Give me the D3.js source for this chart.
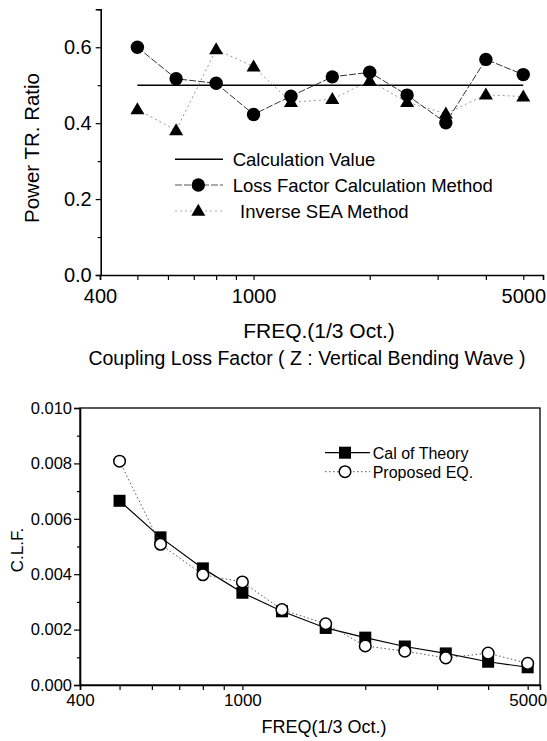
<!DOCTYPE html>
<html>
<head>
<meta charset="utf-8">
<script src="https://cdn.jsdelivr.net/npm/d3@7"></script>
<style>
  body { margin: 0; background: #fff; }
  svg { display: block; font-family: "Liberation Sans", Arial, sans-serif; }
</style>
</head>
<body>
<svg id="main" width="547" height="741"></svg>
<script>
// 1/3 octave centre frequencies
const freqs = [500, 630, 800, 1000, 1250, 1600, 2000, 2500, 3150, 4000, 5000];

// top chart : power transmission ratio
const calcValue  = [0.5, 0.5, 0.5, 0.5, 0.5, 0.5, 0.5, 0.5, 0.5, 0.5, 0.5];
const lossFactor = [0.600, 0.517, 0.505, 0.423, 0.471, 0.522, 0.534, 0.474, 0.401, 0.568, 0.528];
const inverseSEA = [0.436, 0.381, 0.594, 0.549, 0.455, 0.463, 0.512, 0.455, 0.425, 0.475, 0.470];

// bottom chart : coupling loss factor
const calTheory  = [0.00665, 0.00533, 0.00421, 0.00333, 0.00266, 0.00206, 0.00171, 0.00139, 0.00114, 0.00084, 0.00064];
const proposedEQ = [0.00808, 0.00508, 0.00398, 0.00372, 0.00272, 0.00221, 0.00141, 0.00122, 0.00098, 0.00115, 0.00078];

// axis ticks
const xTicks = [400, 500, 600, 700, 800, 900, 1000, 2000, 3000, 4000, 5000];
const xLabels = [400, 1000, 5000];
const topYTicks = [0, 0.1, 0.2, 0.3, 0.4, 0.5, 0.6, 0.7];
const topYLabels = [0, 0.2, 0.4, 0.6];
const botYTicks = [0, 0.001, 0.002, 0.003, 0.004, 0.005, 0.006, 0.007, 0.008, 0.009, 0.010];
const botYLabels = [0, 0.002, 0.004, 0.006, 0.008, 0.010];

const svg = d3.select('#main');

// small helper: triangle path centred on 0,0
function tri(w, h) {
  return `M0,${-h*0.6}L${w/2},${h*0.4}L${-w/2},${h*0.4}Z`;
}

function pairs(ys) { return freqs.map((f, i) => [f, ys[i]]); }

function hasVal(list, v) { return list.some(l => Math.abs(l - v) < 1e-9); }

// ---------------- top chart ----------------
let x1 = d3.scaleLog().domain([400, 5625]).range([100, 543]);
let y1 = d3.scaleLinear().domain([0, 0.7]).range([275, 9.3]);

let topG = svg.append('g').attr('class', 'topchart');

let xAx1 = topG.append('g')
  .attr('transform', 'translate(0,275)')
  .call(d3.axisBottom(x1).tickValues(xTicks).tickSizeOuter(0).tickSize(5).tickPadding(9)
    .tickFormat(d => hasVal(xLabels, d) ? d : ''));
xAx1.selectAll('text').style('font-size', '20px').attr('fill', '#000');

let yAx1 = topG.append('g')
  .attr('transform', 'translate(100.7,0)')
  .call(d3.axisLeft(y1).tickValues(topYTicks).tickSizeOuter(0).tickSize(5).tickPadding(4)
    .tickFormat(d => hasVal(topYLabels, d) ? d3.format('.1f')(d) : ''));
yAx1.selectAll('text').style('font-size', '20px').attr('fill', '#000');
yAx1.selectAll('.tick line').filter(d => !hasVal(topYLabels, d)).attr('x2', -3);

topG.selectAll('.domain').attr('stroke-width', 1.6).attr('stroke', '#000');
topG.selectAll('.tick line').attr('stroke-width', 1.2).attr('stroke', '#000');

let line1 = d3.line().x(d => x1(d[0])).y(d => y1(d[1]));

// calculation value
topG.append('path').datum(pairs(calcValue))
  .attr('d', line1).attr('fill', 'none').attr('stroke', '#000').attr('stroke-width', 1.4);

// inverse SEA method
topG.append('path').datum(pairs(inverseSEA))
  .attr('d', line1).attr('fill', 'none').attr('stroke', '#999').attr('stroke-width', 1)
  .attr('stroke-dasharray', '2,3');
topG.selectAll('.triA').data(pairs(inverseSEA)).join('path')
  .attr('class', 'triA')
  .attr('d', tri(14, 12))
  .attr('transform', d => `translate(${x1(d[0])},${y1(d[1])})`)
  .attr('fill', '#000');

// loss factor calculation method
topG.append('path').datum(pairs(lossFactor))
  .attr('d', line1).attr('fill', 'none').attr('stroke', '#333').attr('stroke-width', 1)
  .attr('stroke-dasharray', '7,2');
topG.selectAll('.dotL').data(pairs(lossFactor)).join('circle')
  .attr('class', 'dotL')
  .attr('cx', d => x1(d[0])).attr('cy', d => y1(d[1])).attr('r', 6.7)
  .attr('fill', '#000');

// legend
let lg1 = topG.append('g').style('font-size', '18.5px');
lg1.append('line').attr('x1', 175).attr('x2', 223).attr('y1', 159.3).attr('y2', 159.3)
  .attr('stroke', '#000').attr('stroke-width', 1.4);
lg1.append('text').attr('x', 232.7).attr('y', 166).text('Calculation Value');

lg1.append('line').attr('x1', 175).attr('x2', 223).attr('y1', 185).attr('y2', 185)
  .attr('stroke', '#555').attr('stroke-width', 1).attr('stroke-dasharray', '7,2');
lg1.append('circle').attr('cx', 198.3).attr('cy', 185).attr('r', 6.7).attr('fill', '#000');
lg1.append('text').attr('x', 232.7).attr('y', 192).text('Loss Factor Calculation Method');

lg1.append('line').attr('x1', 175).attr('x2', 223).attr('y1', 211).attr('y2', 211)
  .attr('stroke', '#aaa').attr('stroke-width', 1).attr('stroke-dasharray', '2,3');
lg1.append('path').attr('d', tri(14, 12)).attr('transform', 'translate(198.3,211)').attr('fill', '#000');
lg1.append('text').attr('x', 240).attr('y', 217.5).text('Inverse SEA Method');

// titles
topG.append('text')
  .attr('transform', 'translate(38.5,148) rotate(-90)')
  .attr('text-anchor', 'middle').style('font-size', '20.5px')
  .text('Power TR. Ratio');
topG.append('text').attr('x', 319).attr('y', 338).attr('text-anchor', 'middle')
  .style('font-size', '21px').text('FREQ.(1/3 Oct.)');
topG.append('text').attr('x', 307).attr('y', 365).attr('text-anchor', 'middle')
  .style('font-size', '19.5px').text('Coupling Loss Factor ( Z : Vertical Bending Wave )');

// ---------------- bottom chart ----------------
let x2 = d3.scaleLog().domain([400, 5360]).range([80, 540]);
let y2 = d3.scaleLinear().domain([0, 0.010]).range([685, 408]);

let botG = svg.append('g').attr('class', 'botchart');

botG.append('rect').attr('x', 80).attr('y', 408).attr('width', 460).attr('height', 277)
  .attr('fill', 'none').attr('stroke', '#000').attr('stroke-width', 1.3);

let xAx2 = botG.append('g')
  .attr('transform', 'translate(0,685)')
  .call(d3.axisBottom(x2).tickValues(xTicks).tickSizeOuter(0).tickSize(5).tickPadding(4)
    .tickFormat(d => hasVal(xLabels, d) ? d : ''));
xAx2.selectAll('text').style('font-size', '17px').attr('fill', '#000');

let yAx2 = botG.append('g')
  .attr('transform', 'translate(80,0)')
  .call(d3.axisLeft(y2).tickValues(botYTicks).tickSizeOuter(0).tickSize(6).tickPadding(2)
    .tickFormat(d => hasVal(botYLabels, d) ? d3.format('.3f')(d) : ''));
yAx2.selectAll('text').style('font-size', '16.5px').attr('fill', '#000');
yAx2.selectAll('.tick line').filter(d => !hasVal(botYLabels, d)).attr('x2', -3);

botG.selectAll('.domain').attr('stroke-width', 1.6).attr('stroke', '#000');
botG.selectAll('.tick line').attr('stroke-width', 1.2).attr('stroke', '#000');

let line2 = d3.line().x(d => x2(d[0])).y(d => y2(d[1]));

// cal of theory
botG.append('path').datum(pairs(calTheory))
  .attr('d', line2).attr('fill', 'none').attr('stroke', '#000').attr('stroke-width', 1.2);
botG.selectAll('.sq').data(pairs(calTheory)).join('rect')
  .attr('class', 'sq')
  .attr('x', d => x2(d[0]) - 6).attr('y', d => y2(d[1]) - 6)
  .attr('width', 12).attr('height', 12).attr('fill', '#000');

// proposed EQ
botG.append('path').datum(pairs(proposedEQ))
  .attr('d', line2).attr('fill', 'none').attr('stroke', '#555').attr('stroke-width', 1)
  .attr('stroke-dasharray', '1.5,2.5');
botG.selectAll('.oc').data(pairs(proposedEQ)).join('circle')
  .attr('class', 'oc')
  .attr('cx', d => x2(d[0])).attr('cy', d => y2(d[1])).attr('r', 5.8)
  .attr('fill', '#fff').attr('stroke', '#000').attr('stroke-width', 1.5);

// legend
let lg2 = botG.append('g').style('font-size', '16px');
lg2.append('line').attr('x1', 325).attr('x2', 370).attr('y1', 452.7).attr('y2', 452.7)
  .attr('stroke', '#000').attr('stroke-width', 1.2);
lg2.append('rect').attr('x', 339).attr('y', 446.7).attr('width', 12).attr('height', 12).attr('fill', '#000');
lg2.append('text').attr('x', 372.7).attr('y', 458.5).text('Cal of Theory');

lg2.append('line').attr('x1', 325).attr('x2', 370).attr('y1', 471.7).attr('y2', 471.7)
  .attr('stroke', '#555').attr('stroke-width', 1).attr('stroke-dasharray', '1.5,2.5');
lg2.append('circle').attr('cx', 345).attr('cy', 471.7).attr('r', 5.8)
  .attr('fill', '#fff').attr('stroke', '#000').attr('stroke-width', 1.5);
lg2.append('text').attr('x', 372.7).attr('y', 477.5).text('Proposed EQ.');

// titles
botG.append('text')
  .attr('transform', 'translate(22.7,550) rotate(-90)')
  .attr('text-anchor', 'middle').style('font-size', '17px')
  .text('C.L.F.');
botG.append('text').attr('x', 324).attr('y', 733).attr('text-anchor', 'middle')
  .style('font-size', '18px').text('FREQ(1/3 Oct.)');
</script>
</body>
</html>
